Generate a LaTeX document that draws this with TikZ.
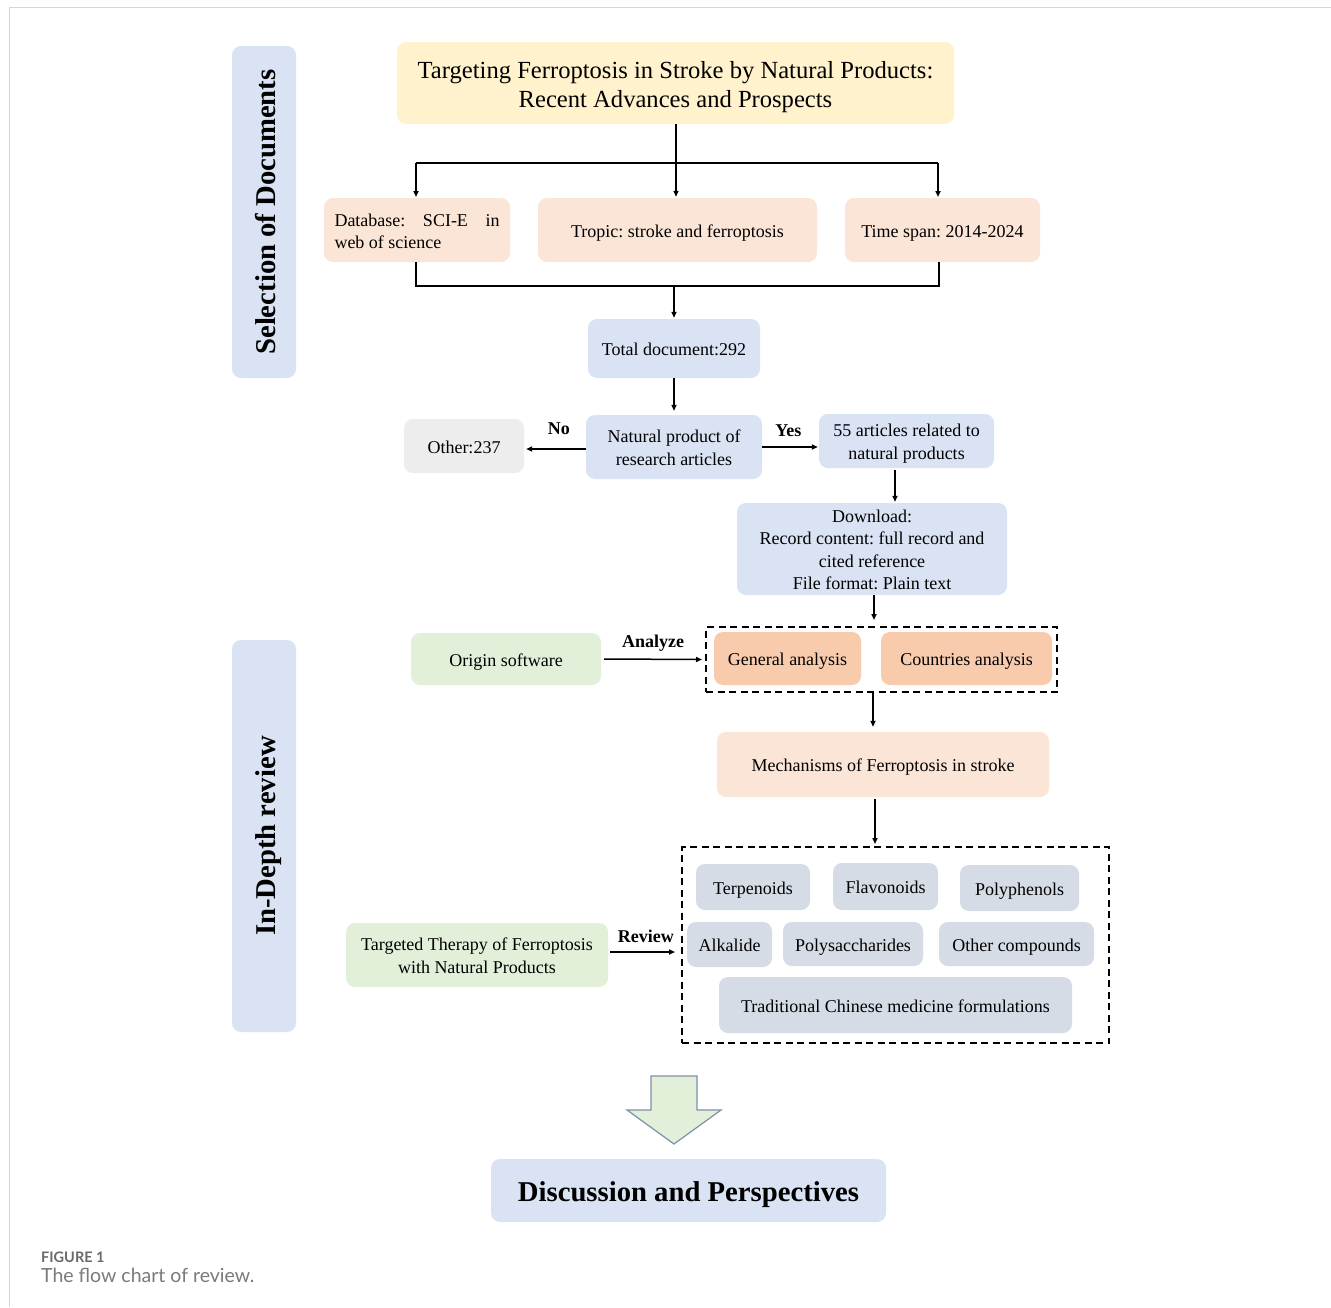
\documentclass[tikz,border=0pt]{standalone}
\usepackage{fontspec}
\setmainfont{Liberation Serif}
\newfontfamily\serifbody{Liberation Serif}
\newfontfamily\capfont{Lato}
\usetikzlibrary{arrows.meta}
\frenchspacing
\definecolor{cblue}{HTML}{DAE3F3}
\definecolor{cpeach}{HTML}{FBE5D6}
\definecolor{corange}{HTML}{F8CBAD}
\definecolor{cgreen}{HTML}{E2F0D9}
\definecolor{cyellow}{HTML}{FFF2CC}
\definecolor{cgray}{HTML}{EDEDED}
\definecolor{cslate}{HTML}{D6DCE5}
\definecolor{cframe}{HTML}{D5D5D5}
\definecolor{ccap}{HTML}{6A6A6A}
\definecolor{ccapb}{HTML}{7A7A7A}
\definecolor{carrowline}{HTML}{8090A8}
\newcommand\bodyfont{\serifbody\fontsize{18}{22.5}\selectfont}
\newcommand\topfix{\rule{0pt}{1.06em}}
\newcommand\botfix{\rule[-0.28em]{0pt}{0.28em}}
\tikzset{
  box/.style={rounded corners=9pt, inner sep=0pt, align=center, font=\bodyfont,
    execute at begin node={\topfix},
    execute at end node={\botfix}},
  sidebox/.style={box, fill=cblue, rotate=90, font=\serifbody\fontsize{28.7}{32}\selectfont\bfseries},
  conn/.style={line width=1.5pt, -{Triangle[length=6pt,width=5pt]}},
  plainconn/.style={line width=1.5pt},
  dashbox/.style={draw, line width=2pt, dash pattern=on 7pt off 4.5pt, inner sep=0pt},
  lbl/.style={font=\serifbody\fontsize{18}{20}\selectfont\bfseries, inner sep=0pt}
}
\begin{document}
\begin{tikzpicture}[x=1pt,y=-1pt]
\useasboundingbox[fill=white] (0,0) rectangle (1331,1307);
% frame
\draw[cframe, line width=1.5pt] (9.5,1307) -- (9.5,7.5) -- (1331,7.5);

% side labels
\node[sidebox, minimum width=332pt, minimum height=64pt] (sel) at (264,212) {Selection of Documents};
\node[sidebox, minimum width=392pt, minimum height=64pt] (deep) at (264,836) {In-Depth review};

% top section
\node[box, fill=cyellow, minimum width=557pt, minimum height=82pt, font=\serifbody\fontsize{24.6}{29}\selectfont] (title) at (675.5,83)
  {\topfix Targeting Ferroptosis in Stroke by Natural Products:\\Recent Advances and Prospects\botfix};
\node[box, fill=cpeach, minimum width=186pt, minimum height=64pt, align=left, font=\serifbody\fontsize{18}{22}\selectfont] (db) at (417,230)
  {\topfix\makebox[165pt][s]{Database: SCI-E in}\\web of science\botfix};
\node[box, fill=cpeach, minimum width=279pt, minimum height=64pt] (tropic) at (677.5,230) {Tropic: stroke and ferroptosis};
\node[box, fill=cpeach, minimum width=195pt, minimum height=64pt] (time) at (942.5,230) {Time span: 2014-2024};
\node[box, fill=cblue, minimum width=172pt, minimum height=59pt] (total) at (674,348.5) {Total document:292};
\node[box, fill=cblue, minimum width=176pt, minimum height=64pt] (natural) at (674,447) {\topfix Natural product of\\research articles\botfix};
\node[box, fill=cgray, minimum width=120pt, minimum height=54pt] (other) at (464,446) {Other:237};
\node[box, fill=cblue, minimum width=175pt, minimum height=54pt] (art) at (906.5,441) {\topfix 55 articles related to\\natural products\botfix};
\node[box, fill=cblue, minimum width=270pt, minimum height=92pt] (download) at (872,549)
  {\topfix Download:\\Record content: full record and\\cited reference\\File format: Plain text\botfix};

% analysis
\node[dashbox, minimum width=351pt, minimum height=65pt] (dash1) at (881.5,659.5) {};
\node[box, fill=corange, minimum width=147pt, minimum height=53pt] (general) at (787.5,658.5) {General analysis};
\node[box, fill=corange, minimum width=171pt, minimum height=53pt] (countries) at (966.5,658.5) {Countries analysis};
\node[box, fill=cgreen, minimum width=190pt, minimum height=52pt] (origin) at (506,659) {Origin software};
\node[box, fill=cpeach, minimum width=332pt, minimum height=65pt] (mech) at (883,764.5) {Mechanisms of Ferroptosis in stroke};

% compounds
\node[dashbox, minimum width=427pt, minimum height=196pt] (dash2) at (895.5,945) {};
\node[box, fill=cslate, minimum width=114pt, minimum height=46pt] (terp) at (753,887) {Terpenoids};
\node[box, fill=cslate, minimum width=105pt, minimum height=47pt] (flav) at (885.5,886.5) {Flavonoids};
\node[box, fill=cslate, minimum width=119pt, minimum height=46pt] (poly) at (1019.5,888) {Polyphenols};
\node[box, fill=cslate, minimum width=85pt, minimum height=45pt] (alk) at (729.5,944.5) {Alkalide};
\node[box, fill=cslate, minimum width=140pt, minimum height=44pt] (polys) at (853,944) {Polysaccharides};
\node[box, fill=cslate, minimum width=155pt, minimum height=44pt] (othc) at (1016.5,944) {Other compounds};
\node[box, fill=cslate, minimum width=353pt, minimum height=56pt] (tcm) at (895.5,1005) {Traditional Chinese medicine formulations};
\node[box, fill=cgreen, minimum width=262pt, minimum height=64pt] (therapy) at (477,955) {\topfix Targeted Therapy of Ferroptosis\\with Natural Products\botfix};

% final
\node[box, fill=cblue, minimum width=395pt, minimum height=63pt, font=\serifbody\fontsize{28.7}{32}\selectfont\bfseries] (disc) at (688.5,1190.5) {Discussion and Perspectives};
\draw[fill=cgreen, draw=carrowline, line width=1.2pt]
  (651,1076) -- (697,1076) -- (697,1110) -- (721,1110) -- (674,1144) -- (627,1110) -- (651,1110) -- cycle;

% connectors (yshift positive = up on the page)
\coordinate (j1) at (676,163);
\coordinate (j2) at (674,286);
\draw[plainconn] (j1 |- title.south) -- (j1);
\draw[plainconn] (416,163) -- (938,163);
\draw[conn] (416,163) -- (416,197);
\draw[conn] (j1) -- ([yshift=1pt]j1 |- tropic.north);
\draw[conn] (938,163) -- (938,197);
\draw[plainconn] (416,262) -- (416,286) -- (939,286) -- (939,262);
\draw[conn] (j2) -- ([yshift=1pt]total.north);
\draw[conn] (total.south) -- ([yshift=4pt]natural.north);
\draw[conn] ([yshift=-2pt]natural.west) -- ([xshift=2pt, yshift=-2pt]other.east |- natural.west) node[lbl, pos=0.45, above=14pt] (no) {No};
\draw[conn] (natural.east) -- ([xshift=-1pt]natural.east -| art.west) node[lbl, pos=0.47, above=10pt] (yes) {Yes};
\draw[conn] ([xshift=-11.5pt, yshift=-2pt]art.south) -- ([xshift=-11.5pt, yshift=1pt]art.south |- download.north);
\draw[conn] ([xshift=2pt]download.south) -- ([xshift=2pt, yshift=6pt]download.south |- dash1.north);
\draw[conn] ([xshift=3pt]origin.east) -- ([xshift=-3pt]dash1.west) node[lbl, midway, above=7pt] (an) {Analyze};
\draw[conn] ([xshift=-8.5pt]dash1.south) -- ([xshift=-8.5pt, yshift=5pt]dash1.south |- mech.north);
\draw[conn] ([xshift=-8pt, yshift=-2pt]mech.south) -- ([xshift=-8pt, yshift=2pt]mech.south |- dash2.north);
\draw[conn] ([xshift=2pt, yshift=3pt]therapy.east) -- ([xshift=-6pt, yshift=3pt]therapy.east -| dash2.west) node[lbl, pos=0.55, above=9pt] (rv) {Review};

% caption
\node[anchor=base west, inner sep=0pt, text=ccap, font=\capfont\fontsize{14.5}{16}\selectfont\bfseries] (fig) at (41,1262) {FIGURE 1};
\node[anchor=base west, inner sep=0pt, text=ccapb, font=\capfont\fontsize{19.5}{22}\selectfont] (cap) at (41,1282) {The flow chart of review.};
\end{tikzpicture}
\end{document}
